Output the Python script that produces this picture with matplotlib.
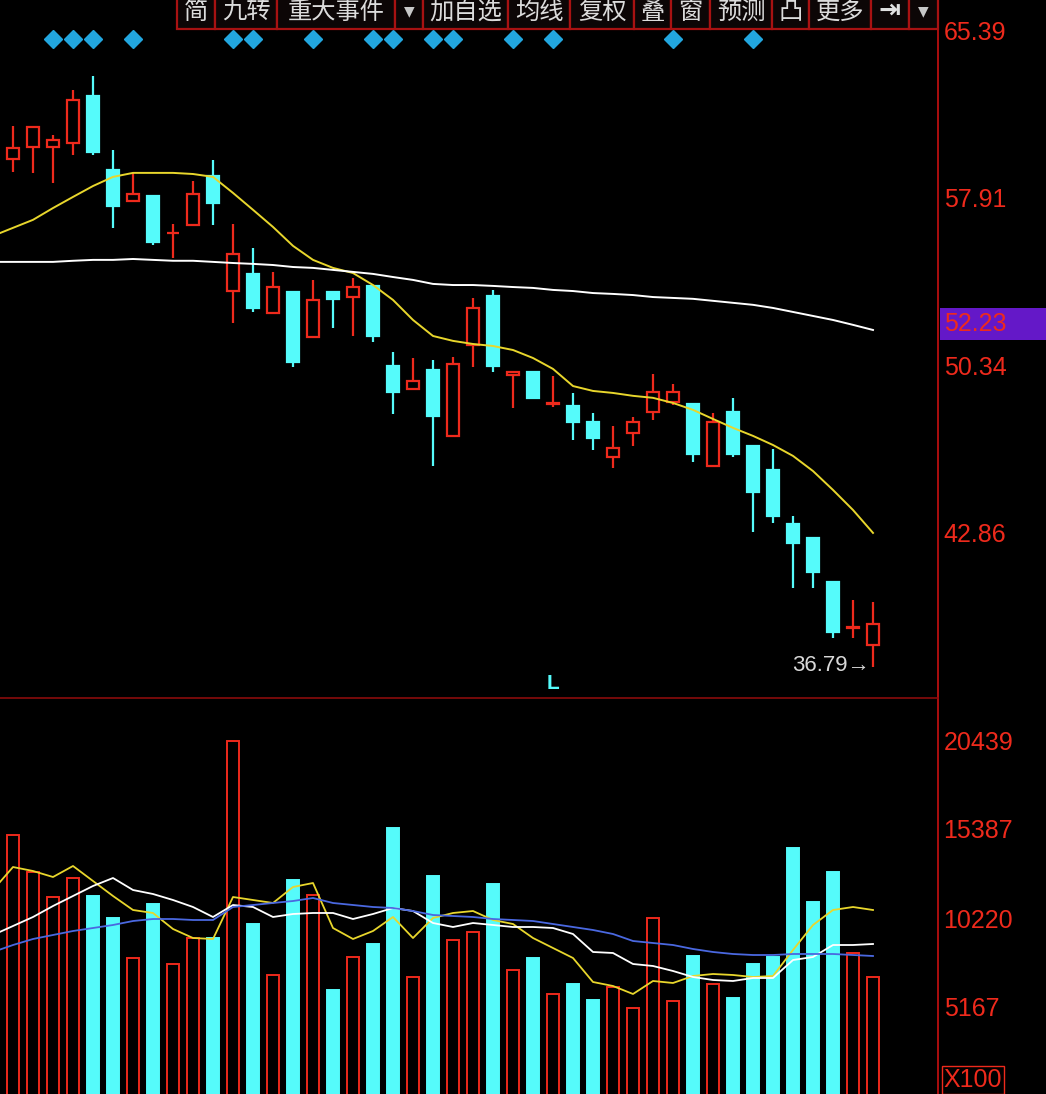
import matplotlib.pyplot as plt
from matplotlib.patches import Rectangle

plt.rcParams['font.family'] = ['Noto Sans CJK SC', 'DejaVu Sans']

# K线数据 (开, 高, 低, 收)
opens = [59.64, 60.18, 60.18, 60.36, 62.47, 59.14, 57.75, 57.97, 56.29, 56.67,
         58.87, 53.70, 54.47, 52.72, 53.66, 51.64, 53.66, 53.43, 53.93, 50.33,
         49.30, 50.15, 47.19, 51.28, 53.48, 49.93, 50.06, 48.63, 48.54, 47.82,
         46.24, 47.32, 48.27, 48.72, 48.63, 45.84, 48.27, 46.74, 45.66, 43.23,
         42.60, 40.63, 38.56, 37.79]
highs = [61.12, 61.08, 60.72, 62.74, 63.37, 60.04, 59.01, 57.97, 56.72, 58.65,
         59.59, 56.72, 55.64, 54.56, 53.66, 54.20, 53.66, 54.29, 53.93, 50.96,
         50.69, 50.60, 50.74, 53.39, 53.75, 50.06, 50.06, 49.88, 49.12, 48.22,
         47.64, 48.04, 49.97, 49.52, 48.63, 48.22, 48.90, 46.74, 46.60, 43.59,
         42.60, 40.63, 39.82, 39.73]
lows = [59.05, 59.01, 58.56, 59.82, 59.82, 56.54, 57.75, 55.77, 55.19, 56.67,
        56.67, 52.27, 52.76, 52.72, 50.29, 51.64, 52.04, 51.68, 51.41, 48.18,
        49.30, 45.84, 47.19, 50.29, 50.06, 48.45, 48.90, 48.49, 47.01, 46.56,
        45.75, 46.74, 47.91, 48.58, 46.02, 45.84, 46.24, 42.87, 43.28, 40.36,
        40.36, 38.11, 38.11, 36.79]
closes = [60.13, 61.08, 60.49, 62.29, 59.95, 57.52, 58.06, 55.91, 56.33, 58.06,
          57.66, 55.37, 52.94, 53.88, 50.51, 53.30, 53.35, 53.88, 51.68, 49.17,
          49.66, 48.09, 50.42, 52.94, 50.33, 50.06, 48.90, 48.67, 47.82, 47.10,
          46.65, 47.82, 49.17, 49.17, 46.38, 47.82, 46.38, 44.67, 43.59, 42.38,
          41.08, 38.38, 38.60, 38.74]

# 价格均线 (从窗口前一根开始)
ma_yellow = [56.18, 56.54, 56.90, 57.43, 57.93, 58.42, 58.83, 59.01, 59.01, 59.01,
             58.96, 58.83, 58.11, 57.35, 56.58, 55.73, 55.10, 54.74, 54.51, 53.97,
             53.30, 52.40, 51.68, 51.46, 51.32, 51.23, 51.05, 50.69, 50.20, 49.43,
             49.21, 49.12, 48.99, 48.90, 48.67, 48.36, 47.95, 47.55, 47.19, 46.78,
             46.29, 45.61, 44.76, 43.86, 42.83]
ma_white = [55.01, 55.01, 55.01, 55.01, 55.06, 55.10, 55.10, 55.14, 55.10, 55.06,
            55.06, 55.01, 54.96, 54.92, 54.87, 54.78, 54.74, 54.65, 54.56, 54.47,
            54.33, 54.20, 54.02, 53.97, 53.97, 53.93, 53.88, 53.84, 53.75, 53.70,
            53.61, 53.57, 53.52, 53.43, 53.39, 53.35, 53.26, 53.17, 53.08, 52.94,
            52.76, 52.58, 52.40, 52.18, 51.95]

# 成交量 (手 x100)
volumes = [15042, 12917, 11482, 12573, 11539, 10277, 7980, 11080, 7636, 9128,
           9128, 20439, 9932, 7004, 12458, 11597, 6143, 8038, 8784, 15443,
           6889, 12688, 9013, 9473, 12228, 7291, 7980, 5913, 6487, 5569,
           6315, 5110, 10277, 5511, 8095, 6487, 5684, 7636, 8038, 14295,
           11195, 12917, 8267, 6889]
vol_ma5 = [11884, 13204, 12975, 12630, 13262, 12401, 11540, 10736, 10564, 9645,
           9128, 9071, 11482, 11310, 11138, 12056, 12286, 9702, 9071, 9530,
           10334, 9128, 10276, 10564, 10678, 10162, 9932, 9128, 8554, 7980,
           6602, 6373, 5913, 6660, 6545, 6947, 7062, 7004, 6889, 6947,
           8439, 9875, 10736, 10908, 10736]
vol_ma10 = [9301, 9817, 10334, 10965, 11540, 12114, 12573, 11884, 11654, 11310,
            10908, 10334, 11023, 10908, 10334, 10506, 10564, 10564, 10219, 10506,
            10851, 10678, 9989, 9760, 9989, 9875, 9760, 9760, 9702, 9358,
            8325, 8267, 7636, 7521, 7234, 6889, 6717, 6660, 6832, 6832,
            7865, 8038, 8726, 8726, 8784]
vol_ma20 = [8325, 8726, 9071, 9301, 9530, 9702, 9875, 10104, 10219, 10219,
            10162, 10162, 10908, 11023, 11138, 11252, 11425, 11138, 11023, 10908,
            10851, 10678, 10449, 10391, 10334, 10219, 10162, 10104, 9932, 9760,
            9588, 9358, 8956, 8841, 8726, 8497, 8325, 8210, 8152, 8152,
            8210, 8210, 8210, 8152, 8095]

signal_idx = [2, 3, 4, 6, 11, 12, 15, 18, 19, 21, 22, 25, 27, 33, 37]

price_ticks = [65.39, 57.91, 50.34, 42.86]
vol_ticks = [20439, 15387, 10220, 5167]
cur_price = 52.23
low_label = 36.79

buttons = [("简", 177, 215), ("九转", 215, 277), ("重大事件", 277, 395), ("▼", 395, 423),
           ("加自选", 423, 508), ("均线", 508, 570), ("复权", 570, 634), ("叠", 634, 671),
           ("窗", 671, 710), ("预测", 710, 772), ("凸", 772, 809), ("更多", 809, 871),
           ("⇥", 871, 909), ("▼", 909, 938)]

RED = '#ee2a1c'
CYAN = '#55fbfb'
YEL = '#e8d62c'
W, H = 1046, 1094

fig = plt.figure(figsize=(W / 100, H / 100), dpi=100, facecolor='black')
ax = fig.add_axes([0, (H - 698) / H, 938 / W, 698 / H], facecolor='black')
axv = fig.add_axes([0, 0, 938 / W, (H - 698) / H], facecolor='black')

n = len(opens)
xs = list(range(n))
xm = list(range(-1, n))

# 蜡烛图
for i in xs:
    up = closes[i] >= opens[i]
    col = RED if up else CYAN
    ax.vlines(i, lows[i], highs[i], color=col, lw=1.6, zorder=2)
    ax.bar(i, max(abs(closes[i] - opens[i]), 0.03), bottom=min(opens[i], closes[i]),
           width=0.62, facecolor='black' if up else col, edgecolor=col, lw=1.6, zorder=3)

ax.plot(xm, ma_yellow, color=YEL, lw=1.4, zorder=4)
ax.plot(xm, ma_white, color='white', lw=1.4, zorder=4)
ax.plot(signal_idx, [65.03] * len(signal_idx), 'D', color='#22a6df', ms=9, zorder=5)

ax.text(42.85, low_label + 0.1, "%.2f→" % low_label, color='#d8d8d8', fontsize=16,
        ha='right', va='center', family='Liberation Sans', zorder=6)
ax.text(27, 36.05, "L", color=CYAN, fontsize=15, ha='center', va='center',
        family='Liberation Sans', fontweight='bold')

ax.set_xlim(-0.65, 46.25)
ax.set_ylim(35.41, 66.78)
ax.yaxis.tick_right()
ax.set_yticks(price_ticks)
ax.set_yticklabels(["%.2f" % v for v in price_ticks])
ax.set_xticks([])
ax.tick_params(axis='y', length=0, pad=4, labelcolor=RED, labelsize=18)
for lab in ax.get_yticklabels():
    lab.set_family('Liberation Sans')
for s in ['left', 'top', 'bottom']:
    ax.spines[s].set_visible(False)
ax.spines['right'].set_color('#c81010')
ax.spines['right'].set_linewidth(1.2)

# 当前价标签
ax.add_patch(Rectangle((1.002, cur_price - 0.72), 0.113, 1.44,
                       transform=ax.get_yaxis_transform(), facecolor='#6418c8',
                       edgecolor='none', clip_on=False, zorder=6))
ax.text(1.006, cur_price, "%.2f" % cur_price, transform=ax.get_yaxis_transform(),
        color=RED, fontsize=18, family='Liberation Sans', va='center', ha='left',
        clip_on=False, zorder=7)

# 成交量
for i in xs:
    up = closes[i] >= opens[i]
    col = RED if up else CYAN
    axv.bar(i, volumes[i], width=0.62, facecolor='black' if up else col,
            edgecolor=col, lw=1.4, zorder=2)
axv.plot(xm, vol_ma5, color=YEL, lw=1.3, zorder=3)
axv.plot(xm, vol_ma10, color='white', lw=1.3, zorder=3)
axv.plot(xm, vol_ma20, color='#4a68e0', lw=1.3, zorder=3)

axv.set_xlim(-0.65, 46.25)
axv.set_ylim(172, 22907)
axv.yaxis.tick_right()
axv.set_yticks(vol_ticks)
axv.set_yticklabels([str(v) for v in vol_ticks])
axv.set_xticks([])
axv.tick_params(axis='y', length=0, pad=4, labelcolor=RED, labelsize=18)
for lab in axv.get_yticklabels():
    lab.set_family('Liberation Sans')
for s in ['left', 'bottom']:
    axv.spines[s].set_visible(False)
axv.spines['right'].set_color('#c81010')
axv.spines['right'].set_linewidth(1.2)
axv.spines['top'].set_color('#8a0c0c')
axv.spines['top'].set_linewidth(1.2)
axv.text(1.006, 0.035, "X100", transform=axv.transAxes, color=RED,
         fontsize=18, family='Liberation Sans', va='center', ha='left', clip_on=False,
         bbox=dict(facecolor='black', edgecolor=RED, pad=1.5, lw=1))

# 顶部工具栏
ov = fig.add_axes([0, 0, 1, 1])
ov.set_xlim(0, W)
ov.set_ylim(H, 0)
ov.axis('off')
ov.patch.set_alpha(0)
for label, x0, x1 in buttons:
    ov.add_patch(Rectangle((x0, -2), x1 - x0, 31, facecolor='#0c0606',
                           edgecolor='#a81212', lw=1.6))
    if label == "▼":
        ov.text((x0 + x1) / 2, 11, label, color='#c8c8c8', fontsize=10,
                ha='center', va='center', family='DejaVu Sans')
    elif label == "⇥":
        ov.text((x0 + x1) / 2, 11, label, color='#e0e0e0', fontsize=19,
                ha='center', va='center', family='DejaVu Sans', fontweight='bold')
    else:
        ov.text((x0 + x1) / 2, 12, label, color='#dcdcdc', fontsize=17.5,
                ha='center', va='center')

fig.savefig("out.png", dpi=100, facecolor='black')
